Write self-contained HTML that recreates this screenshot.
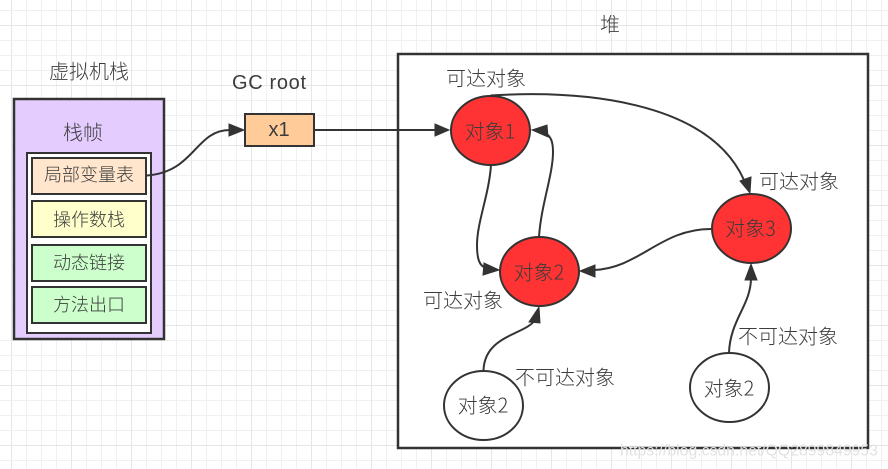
<!DOCTYPE html>
<html><head><meta charset="utf-8"><style>
html,body{margin:0;padding:0;background:#fff}
svg{display:block}
text{font-family:"Liberation Sans","Noto Sans CJK SC",sans-serif;fill:#3c3c3c;text-anchor:middle;dominant-baseline:central;font-size:20px}
.c{font-family:"Noto Sans CJK SC","Liberation Sans",sans-serif;font-weight:300}
.s{font-size:18px}
.l{fill:none;stroke:#333;stroke-width:2}
.a{fill:#333;stroke:#333;stroke-width:1}
.b{stroke:#333;stroke-width:2}
</style></head><body>
<svg width="888" height="469" viewBox="0 0 888 469" xmlns="http://www.w3.org/2000/svg">
<defs>
<pattern id="g" x="11" y="10" width="15" height="15" patternUnits="userSpaceOnUse"><path d="M0.5 0V15M0 0.5H15" fill="none" stroke="#f0f0f0" stroke-width="1"/></pattern>
<pattern id="h" x="11" y="25" width="60" height="60" patternUnits="userSpaceOnUse"><path d="M0.5 0V60M0 0.5H60" fill="none" stroke="#e6e6e6" stroke-width="1"/></pattern>
</defs>
<rect width="888" height="469" fill="#fff"/>
<rect x="11" width="877" height="469" fill="url(#g)"/>
<rect x="11" width="877" height="469" fill="url(#h)"/>
<rect x="0" y="10" width="12" height="1" fill="#f0f0f0"/>
<rect x="0" y="25" width="12" height="1" fill="#e6e6e6"/>
<rect x="0" y="40" width="12" height="1" fill="#f0f0f0"/>
<rect x="0" y="55" width="12" height="1" fill="#f0f0f0"/>
<rect x="0" y="70" width="12" height="1" fill="#f0f0f0"/>
<rect x="0" y="85" width="12" height="1" fill="#e6e6e6"/>
<rect x="0" y="340" width="12" height="1" fill="#f0f0f0"/>
<rect x="0" y="355" width="12" height="1" fill="#f0f0f0"/>
<rect x="0" y="370" width="12" height="1" fill="#f0f0f0"/>
<rect x="0" y="385" width="12" height="1" fill="#e6e6e6"/>
<rect x="0" y="400" width="12" height="1" fill="#f0f0f0"/>
<rect x="0" y="415" width="12" height="1" fill="#f0f0f0"/>
<rect x="0" y="430" width="12" height="1" fill="#f0f0f0"/>
<rect x="0" y="445" width="12" height="1" fill="#e6e6e6"/>
<rect x="0" y="460" width="12" height="1" fill="#f0f0f0"/>
<rect x="398" y="54" width="470" height="394" fill="#fff" class="b" style="stroke-width:2.5"/>
<rect x="14" y="99" width="150" height="240" fill="#e5ccff" class="b" style="stroke-width:2.5"/>
<rect x="27" y="153" width="124" height="180" fill="#fff" class="b"/>
<rect x="32" y="158" width="114" height="36" fill="#ffe6cc" class="b"/>
<rect x="32" y="201" width="114" height="36" fill="#ffffcc" class="b"/>
<rect x="32" y="245" width="114" height="36" fill="#ccffcc" class="b"/>
<rect x="32" y="287" width="114" height="36" fill="#ccffcc" class="b"/>
<rect x="245" y="114" width="69" height="32" fill="#ffcc99" class="b"/>
<ellipse cx="490.5" cy="130.5" rx="39.5" ry="34.5" fill="#ff3333" class="b"/>
<ellipse cx="539.5" cy="271.5" rx="39.5" ry="34.5" fill="#ff3333" class="b"/>
<ellipse cx="751.5" cy="228.5" rx="39.5" ry="34.5" fill="#ff3333" class="b"/>
<ellipse cx="483.5" cy="405.5" rx="39.5" ry="34.5" fill="#fff" class="b"/>
<ellipse cx="729.5" cy="387.5" rx="39.5" ry="34.5" fill="#fff" class="b"/>
<path class="l" d="M147 175.5C195 172 195 130 230 130"/>
<polygon class="a" points="244,130 229,124 229,136"/>
<path class="l" d="M315 130H436"/>
<polygon class="a" points="449,130 435,124 435,136"/>
<path class="l" d="M490.5 95.5C580 90 708 100 744 180"/>
<polygon class="a" points="750,193 740,181 751,177"/>
<path class="l" d="M491 165C489 195 477 222 477 245C477 258 479 266 486 268"/>
<polygon class="a" points="499,270 484,263 483,275"/>
<path class="l" d="M539 237C541 205 553 175 553 152C553 142 551 136 545 133"/>
<polygon class="a" points="532,130 547,125 548,137"/>
<path class="l" d="M711 229C660 229 640 268 594 270"/>
<polygon class="a" points="580,271 595,265 595,277"/>
<path class="l" d="M483.5 370C485 335 525 335 535 320"/>
<polygon class="a" points="539,307 540,323 529,322"/>
<path class="l" d="M729 353C730 320 751 305 751 278"/>
<polygon class="a" points="751,264 757,280 745,280"/>
<text class="c" x="89" y="70">虚拟机栈</text>
<text x="269" y="83" textLength="74" lengthAdjust="spacing">GC root</text>
<text class="c" x="610" y="23">堆</text>
<text class="c" x="83" y="131">栈帧</text>
<text class="c s" x="89" y="174">局部变量表</text>
<text class="c s" x="89" y="219">操作数栈</text>
<text class="c s" x="89" y="262">动态链接</text>
<text class="c s" x="89" y="304">方法出口</text>
<text x="279" y="130">x1</text>
<text class="c" x="486" y="77">可达对象</text>
<text class="c" x="799" y="180">可达对象</text>
<text class="c" x="463" y="299">可达对象</text>
<text class="c" x="565" y="376">不可达对象</text>
<text class="c" x="788" y="335">不可达对象</text>
<text class="c" x="490" y="130">对象1</text>
<text class="c" x="539" y="271">对象2</text>
<text class="c" x="750.5" y="227">对象3</text>
<text class="c" x="483" y="404">对象2</text>
<text class="c" x="729" y="387">对象2</text>
<text x="749" y="451" style="font-size:15.5px;fill:#e2e2e2" textLength="258" lengthAdjust="spacingAndGlyphs">https://blog.csdn.net/QQ2899849953</text>
</svg>
</body></html>
